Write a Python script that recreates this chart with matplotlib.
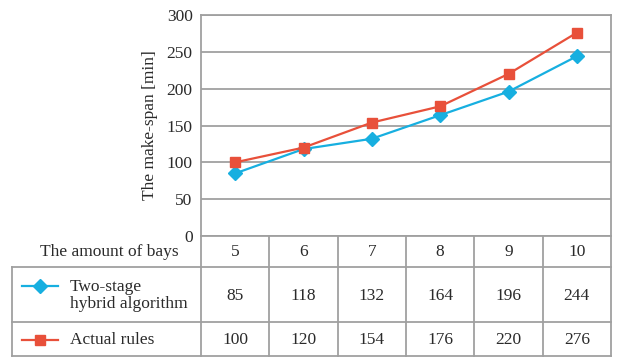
import matplotlib
matplotlib.use("Agg")
import matplotlib.pyplot as plt

# data
bays = [5, 6, 7, 8, 9, 10]
two_stage = [85, 118, 132, 164, 196, 244]
actual = [100, 120, 154, 176, 220, 276]
series_names = ["Two-stage\nhybrid algorithm", "Actual rules"]
yticks = [0, 50, 100, 150, 200, 250, 300]

plt.rcParams['font.family'] = ['Liberation Serif', 'DejaVu Serif']
W, H = 617, 357
fig = plt.figure(figsize=(W / 100, H / 100), dpi=100)

blue = '#17afe0'
red = '#e8503a'
grid_c = '#a0a0a0'
txt_c = '#2a2a2a'
fs = 12.5

# plot area in pixels
x0, x1, ytop, ybot = 201, 611, 15, 236
ax = fig.add_axes([x0 / W, 1 - ybot / H, (x1 - x0) / W, (ybot - ytop) / H])
pos = list(range(len(bays)))
ax.plot(pos, two_stage, color=blue, lw=1.6, marker='D', ms=7.5, zorder=3)
ax.plot(pos, actual, color=red, lw=1.6, marker='s', ms=7, zorder=4)
ax.set_xlim(-0.5, len(bays) - 0.5)
ax.set_ylim(0, 300)
ax.set_yticks(yticks)
ax.set_yticklabels([str(v) for v in yticks], fontsize=fs, color=txt_c)
ax.tick_params(axis='y', length=0, pad=6)
ax.set_xticks([])
ax.yaxis.grid(True, color=grid_c, lw=1.3)
ax.set_axisbelow(True)
for s in ax.spines.values():
    s.set_color(grid_c)
    s.set_linewidth(1.3)
ax.set_ylabel("The make-span [min]", fontsize=fs, color=txt_c, labelpad=6)

# table drawn in pixel coordinates
tb = fig.add_axes([0, 0, 1, 1])
tb.set_xlim(0, W)
tb.set_ylim(H, 0)
tb.axis('off')
col_w = (x1 - x0) / len(bays)
cols = [x0 + i * col_w for i in range(len(bays) + 1)]
rows = [236, 267, 322, 356]
lc = grid_c
lw = 1.3
for y in rows[1:]:
    tb.plot([12, x1], [y, y], color=lc, lw=lw)
for c in cols:
    tb.plot([c, c], [rows[0], rows[-1]], color=lc, lw=lw)
tb.plot([12, 12], [rows[1], rows[-1]], color=lc, lw=lw)

tb.text(x0 - 22, (rows[0] + rows[1]) / 2 + 1, "The amount of bays", ha='right', va='center',
        fontsize=fs, color=txt_c)
for i, b in enumerate(bays):
    cx = (cols[i] + cols[i + 1]) / 2
    tb.text(cx, (rows[0] + rows[1]) / 2 + 1, str(b), ha='center', va='center', fontsize=fs, color=txt_c)
    tb.text(cx, (rows[1] + rows[2]) / 2 + 1, str(two_stage[i]), ha='center', va='center', fontsize=fs, color=txt_c)
    tb.text(cx, (rows[2] + rows[3]) / 2 + 1, str(actual[i]), ha='center', va='center', fontsize=fs, color=txt_c)

# legend keys
ky1 = 286
tb.plot([22, 58], [ky1, ky1], color=blue, lw=1.6)
tb.plot([40], [ky1], color=blue, marker='D', ms=7.5)
tb.text(70, (rows[1] + rows[2]) / 2 + 1, series_names[0], ha='left', va='center', fontsize=fs,
        color=txt_c, linespacing=1.05)
ky2 = (rows[2] + rows[3]) / 2 + 1
tb.plot([22, 58], [ky2, ky2], color=red, lw=1.6)
tb.plot([40], [ky2], color=red, marker='s', ms=7)
tb.text(70, ky2, series_names[1], ha='left', va='center', fontsize=fs, color=txt_c)

fig.savefig("out.png", dpi=100)
